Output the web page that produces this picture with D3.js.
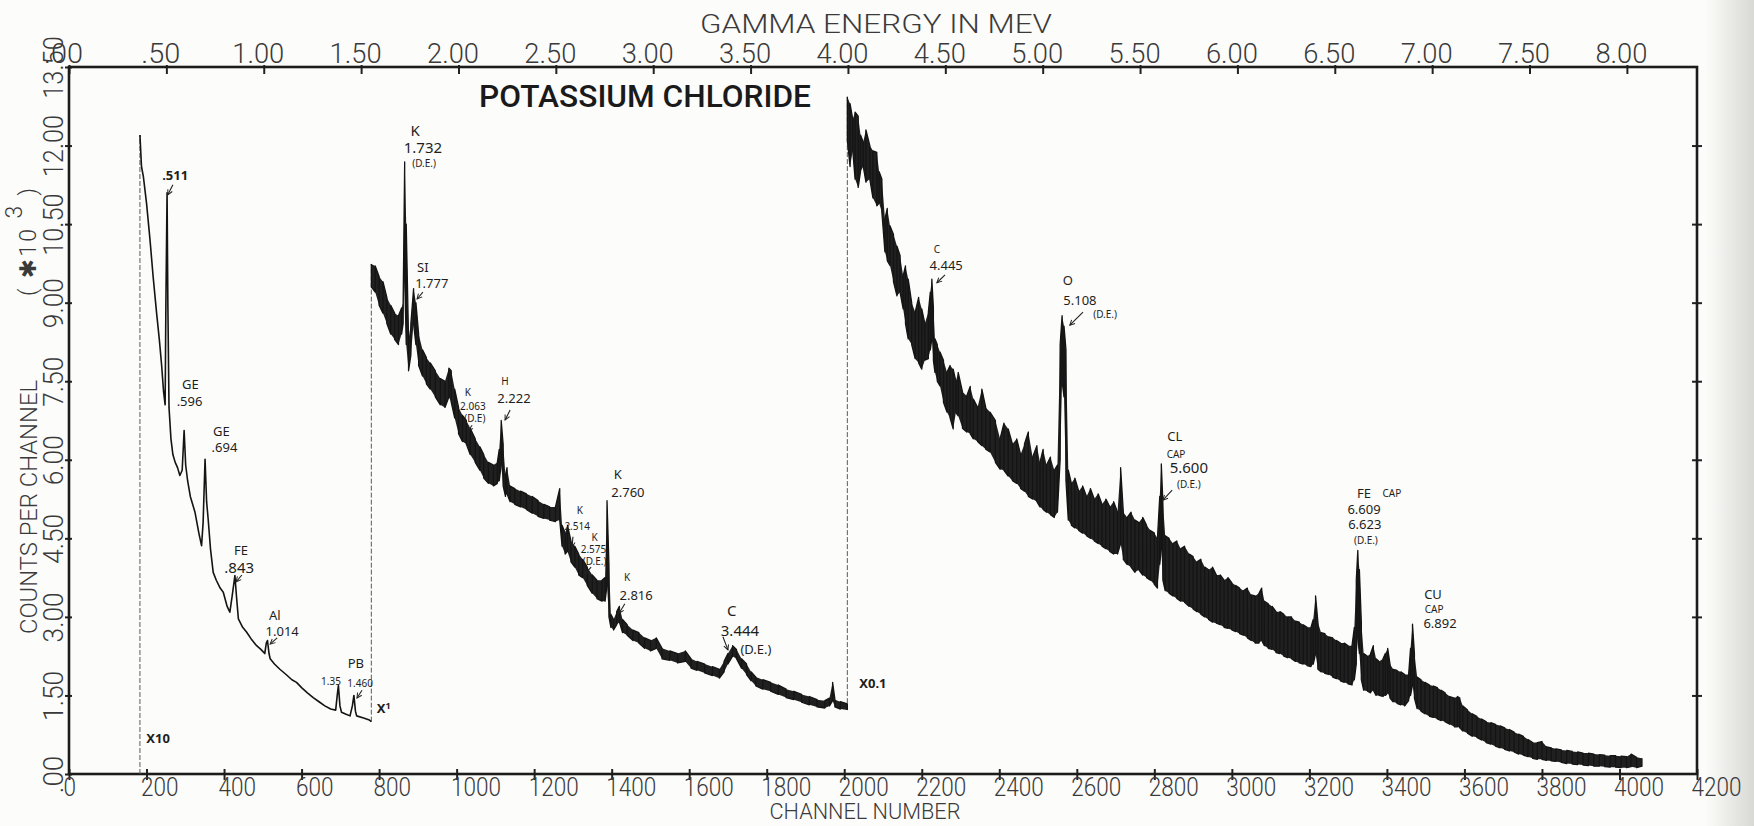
<!DOCTYPE html>
<html>
<head>
<meta charset="utf-8">
<script src="https://cdn.jsdelivr.net/npm/d3@7"></script>
<style>
  body { margin: 0; background: #fcfcfa; }
  svg { display: block; }
  .plot { font-family: Roboto, "Open Sans", "DejaVu Sans", sans-serif; font-weight: 300; fill: #3a3a3a; }
  .note { font-family: "Noto Sans", "DejaVu Sans", sans-serif; fill: #1e1e1e; }
</style>
</head>
<body>
<svg id="chart" width="1754" height="826"></svg>
<script>
// axis ticks
var channelTicks = d3.range(0, 4201, 200);
var energyTicks = d3.range(0, 8.01, 0.5);
var countTicks = d3.range(0, 13.51, 1.5);

// X10 part: [channel, counts (x10^3, as plotted)]
var seg1 = [[183,12.2],[187,11.6],[192,11.4],[200,10.9],[209,10.2],[217,9.5],[226,8.8],[233,8.3],[239,7.8],[244,7.3],
  [248,7.05],[250,9.0],[253,11.1],[255,9.0],[258,7.0],[263,6.4],[268,6.1],[274,5.95],[280,5.85],[286,5.7],
  [292,5.8],[297,6.56],[301,5.9],[306,5.6],[313,5.3],[325,5.0],[335,4.6],[342,4.36],[346,4.8],[351,6.01],
  [355,5.2],[359,4.87],[365,4.3],[372,3.85],[380,3.7],[390,3.55],[398,3.47],[408,3.2],[415,3.09],[421,3.4],
  [428,3.79],[432,3.4],[437,2.96],[448,2.8],[458,2.71],[470,2.58],[484,2.45],[495,2.38],[505,2.3],[509,2.5],
  [512,2.55],[516,2.3],[519,2.2],[530,2.1],[544,2.0],[560,1.9],[575,1.8],[587,1.75],[600,1.65],[615,1.55],
  [630,1.46],[645,1.38],[660,1.3],[675,1.24],[688,1.22],[692,1.5],[695,1.69],[699,1.3],[703,1.18],[715,1.14],
  [725,1.11],[731,1.3],[735,1.5],[739,1.2],[742,1.11],[760,1.07],[775,1.03],[780,1.0]];

// X1 part: [channel, top of noise band, bottom of noise band]
var seg2 = [[780,9.74,9.3],[790,9.7,9.2],[800,9.5,8.95],[810,9.4,8.8],[820,9.1,8.6],[830,8.95,8.4],[840,8.8,8.3],
  [850,8.75,8.2],[858,8.9,8.4],[862,9.0,8.6],[866,11.69,9.5],[870,10.5,8.2],[876,8.3,7.7],[882,8.6,8.0],
  [889,9.27,8.6],[895,9.0,8.2],[902,8.4,7.8],[912,8.1,7.6],[922,7.95,7.45],[932,7.85,7.35],[945,7.7,7.2],
  [958,7.55,7.05],[970,7.5,7.0],[980,7.75,7.2],[986,7.7,7.1],[995,7.35,6.8],[1005,7.0,6.5],[1015,6.85,6.35],
  [1025,6.75,6.3],[1035,6.6,6.1],[1048,6.4,5.95],[1060,6.25,5.8],[1070,6.1,5.65],[1082,5.95,5.55],[1095,5.9,5.5],
  [1105,5.95,5.55],[1110,6.2,5.6],[1115,6.75,5.9],[1120,6.3,5.5],[1126,5.7,5.3],[1130,5.85,5.35],[1138,5.5,5.2],
  [1150,5.45,5.15],[1165,5.4,5.1],[1180,5.35,5.05],[1195,5.3,4.98],[1210,5.22,4.92],[1225,5.15,4.88],
  [1240,5.1,4.85],[1255,5.1,4.82],[1266,5.45,4.85],[1272,4.75,4.35],[1280,4.6,4.2],[1286,4.75,4.25],
  [1295,4.45,4.05],[1305,4.35,3.95],[1315,4.2,3.8],[1325,4.1,3.75],[1337,3.95,3.6],[1350,3.8,3.45],
  [1362,3.7,3.35],[1375,3.7,3.3],[1383,3.75,3.3],[1388,5.22,3.6],[1393,4.0,3.0],[1398,3.05,2.8],[1405,2.95,2.75],
  [1413,3.1,2.85],[1420,3.2,2.9],[1428,2.95,2.7],[1440,2.85,2.65],[1455,2.75,2.55],[1470,2.7,2.5],[1485,2.6,2.4],
  [1500,2.55,2.35],[1515,2.6,2.4],[1530,2.4,2.2],[1550,2.35,2.17],[1570,2.3,2.12],[1590,2.35,2.15],[1605,2.2,2.02],
  [1620,2.15,1.98],[1640,2.1,1.93],[1660,2.05,1.88],[1678,2.0,1.83],[1690,2.15,1.95],[1700,2.3,2.1],
  [1712,2.45,2.25],[1722,2.38,2.2],[1735,2.2,2.02],[1748,2.1,1.9],[1760,1.95,1.78],[1772,1.85,1.68],
  [1790,1.8,1.62],[1810,1.75,1.58],[1830,1.7,1.52],[1850,1.62,1.46],[1870,1.58,1.42],[1890,1.52,1.37],
  [1910,1.48,1.32],[1930,1.42,1.28],[1950,1.4,1.26],[1962,1.45,1.3],[1970,1.75,1.4],[1976,1.42,1.28],
  [1990,1.38,1.24],[2008,1.34,1.22]];

// X0.1 part: [channel, top of noise band, bottom of noise band]
var seg3 = [[2008,12.93,12.1],[2015,12.8,11.6],[2022,12.5,11.9],[2028,12.64,11.36],[2036,12.56,11.2],[2042,12.2,11.5],
  [2049,12.07,11.6],[2056,12.3,11.3],[2066,12.0,11.36],[2074,11.9,11.0],[2084,11.87,10.85],[2090,11.5,10.9],
  [2097,11.36,10.73],[2105,10.6,9.97],[2111,10.8,9.8],[2118,10.47,9.71],[2127,10.3,9.4],[2136,10.08,9.13],
  [2144,9.9,9.2],[2152,9.51,8.88],[2158,9.7,8.6],[2165,9.45,8.31],[2174,9.0,8.2],[2183,8.82,7.93],[2192,9.1,7.85],
  [2200,8.88,7.73],[2208,8.6,7.9],[2217,8.82,7.93],[2222,9.2,8.1],[2226,9.45,8.31],[2230,8.9,7.9],[2234,8.31,7.67],
  [2240,8.2,7.5],[2247,8.06,7.41],[2256,7.9,7.1],[2265,7.67,6.91],[2273,7.8,6.8],[2281,7.73,6.59],[2288,7.5,6.9],
  [2294,7.67,6.84],[2305,7.3,6.6],[2316,7.22,6.53],[2325,7.4,6.5],[2333,7.16,6.4],[2344,7.0,6.35],[2355,7.35,6.27],
  [2365,7.0,6.2],[2376,6.91,6.15],[2390,6.75,5.95],[2402,6.4,5.82],[2412,6.7,5.8],[2423,6.59,5.69],[2434,6.3,5.6],
  [2445,6.4,5.55],[2455,6.1,5.45],[2465,6.3,5.4],[2475,6.53,5.3],[2486,6.05,5.25],[2497,6.27,5.2],[2505,5.95,5.1],
  [2513,6.2,5.05],[2522,5.9,5.0],[2532,6.05,4.95],[2542,5.8,4.9],[2550,5.9,5.0],[2557,8.2,6.0],[2562,8.75,7.5],
  [2567,8.55,7.2],[2572,8.1,5.6],[2578,5.8,4.85],[2586,5.55,4.75],[2595,5.65,4.7],[2605,5.4,4.65],[2615,5.5,4.6],
  [2625,5.3,4.55],[2635,5.45,4.5],[2645,5.25,4.45],[2655,5.35,4.4],[2665,5.15,4.35],[2675,5.25,4.3],[2685,5.1,4.25],
  [2695,5.2,4.2],[2705,5.0,4.2],[2713,5.85,4.4],[2720,5.0,4.1],[2730,4.9,4.0],[2740,5.0,3.95],[2750,4.85,3.85],
  [2760,4.8,3.9],[2770,4.9,3.8],[2780,4.75,3.75],[2790,4.65,3.7],[2800,4.6,3.62],[2808,4.5,3.55],[2814,5.3,4.0],
  [2818,5.92,4.3],[2822,5.2,3.7],[2828,4.55,3.5],[2838,4.5,3.45],[2848,4.4,3.4],[2858,4.45,3.35],[2868,4.3,3.3],
  [2878,4.35,3.28],[2890,4.2,3.2],[2900,4.15,3.15],[2910,4.05,3.1],[2920,4.1,3.05],[2930,3.95,3.0],[2940,3.9,2.95],
  [2950,3.95,2.9],[2960,3.8,2.88],[2970,3.8,2.85],[2980,3.7,2.8],[2990,3.75,2.78],[3000,3.65,2.75],[3010,3.6,2.72],
  [3020,3.55,2.68],[3030,3.5,2.65],[3040,3.55,2.6],[3050,3.42,2.55],[3060,3.4,2.5],[3070,3.45,2.5],[3077,3.55,2.55],
  [3084,3.3,2.45],[3094,3.25,2.4],[3104,3.2,2.38],[3114,3.1,2.32],[3124,3.1,2.3],[3134,3.05,2.25],[3144,3.0,2.22],
  [3154,3.0,2.2],[3164,2.92,2.15],[3174,2.9,2.12],[3184,2.85,2.1],[3194,2.8,2.07],[3204,2.8,2.05],[3210,2.95,2.1],
  [3216,3.4,2.3],[3222,2.9,2.0],[3230,2.7,1.95],[3240,2.68,1.92],[3250,2.62,1.9],[3260,2.6,1.85],[3270,2.55,1.82],
  [3280,2.5,1.78],[3290,2.5,1.75],[3300,2.45,1.72],[3310,2.45,1.7],[3316,2.8,1.8],[3321,3.7,2.1],[3325,4.27,2.6],
  [3329,3.9,2.3],[3334,2.9,1.8],[3340,2.3,1.6],[3350,2.25,1.58],[3358,2.3,1.55],[3365,2.45,1.6],[3372,2.2,1.5],
  [3380,2.15,1.5],[3390,2.2,1.48],[3396,2.3,1.5],[3402,2.4,1.55],[3408,2.1,1.45],[3416,2.0,1.38],[3426,1.98,1.35],
  [3436,1.95,1.32],[3446,1.9,1.3],[3456,1.9,1.4],[3461,2.4,1.5],[3466,2.86,1.7],[3471,2.3,1.45],[3478,1.85,1.25],
  [3488,1.8,1.2],[3498,1.75,1.15],[3510,1.7,1.1],[3520,1.68,1.08],[3530,1.65,1.05],[3540,1.6,1.02],[3550,1.55,1.0],
  [3562,1.48,0.95],[3574,1.45,0.9],[3582,1.48,0.9],[3588,1.45,0.88],[3596,1.3,0.82],[3608,1.22,0.78],[3620,1.15,0.72],
  [3632,1.1,0.7],[3644,1.05,0.65],[3656,1.0,0.6],[3668,0.98,0.57],[3680,0.95,0.53],[3692,0.92,0.5],[3704,0.88,0.47],
  [3716,0.85,0.44],[3728,0.8,0.42],[3740,0.76,0.38],[3752,0.72,0.36],[3764,0.66,0.33],[3776,0.6,0.3],[3788,0.6,0.28],
  [3800,0.62,0.28],[3812,0.52,0.26],[3824,0.5,0.25],[3836,0.48,0.24],[3850,0.46,0.22],[3864,0.45,0.2],[3878,0.43,0.19],
  [3892,0.42,0.18],[3906,0.4,0.17],[3920,0.4,0.16],[3934,0.38,0.15],[3948,0.37,0.15],[3962,0.36,0.14],[3976,0.35,0.13],
  [3990,0.35,0.13],[4004,0.34,0.12],[4018,0.33,0.12],[4030,0.38,0.14],[4044,0.32,0.12],[4058,0.3,0.15]];

// hand-written peak notes: text, channel, counts of the baseline, kind
var peakNotes = [
  {t:".511", ch:274, v:11.34, k:"x"}, {t:"GE", ch:313, v:7.35, k:"m"}, {t:".596", ch:311, v:7.03, k:"m"},
  {t:"GE", ch:393, v:6.46, k:"m"}, {t:".694", ch:401, v:6.15, k:"m"}, {t:"FE", ch:444, v:4.18, k:"m"},
  {t:".843", ch:439, v:3.84, k:"b"}, {t:"Al", ch:531, v:2.94, k:"m"}, {t:"1.014", ch:550, v:2.64, k:"m"},
  {t:"1.35", ch:676, v:1.70, k:"s"}, {t:"PB", ch:740, v:2.03, k:"m"}, {t:"1.460", ch:751, v:1.66, k:"s"},
  {t:"X10", ch:230, v:0.59, k:"x"}, {t:"K", ch:893, v:12.18, k:"b"}, {t:"1.732", ch:913, v:11.86, k:"b"},
  {t:"(D.E.)", ch:916, v:11.6, k:"s"}, {t:"SI", ch:913, v:9.58, k:"m"}, {t:"1.777", ch:936, v:9.28, k:"m"},
  {t:"K", ch:1029, v:7.22, k:"s"}, {t:"2.063", ch:1042, v:6.96, k:"s"}, {t:"(D.E)", ch:1047, v:6.72, k:"s"},
  {t:"H", ch:1125, v:7.42, k:"s"}, {t:"2.222", ch:1148, v:7.08, k:"m"}, {t:"K", ch:1318, v:4.97, k:"s"},
  {t:"2.514", ch:1311, v:4.66, k:"s"}, {t:"K", ch:1356, v:4.45, k:"s"}, {t:"2.575", ch:1353, v:4.22, k:"s"},
  {t:"(D.E.)", ch:1356, v:4.0, k:"s"}, {t:"K", ch:1416, v:5.63, k:"m"}, {t:"2.760", ch:1442, v:5.29, k:"m"},
  {t:"K", ch:1440, v:3.69, k:"s"}, {t:"2.816", ch:1463, v:3.32, k:"m"}, {t:"C", ch:1710, v:3.02, k:"b"},
  {t:"3.444", ch:1731, v:2.64, k:"b"}, {t:"(D.E.)", ch:1772, v:2.3, k:"m"}, {t:"X0.1", ch:2074, v:1.64, k:"x"},
  {t:"C", ch:2239, v:9.95, k:"s"}, {t:"4.445", ch:2263, v:9.62, k:"m"}, {t:"O", ch:2577, v:9.33, k:"m"},
  {t:"5.108", ch:2608, v:8.96, k:"m"}, {t:"(D.E.)", ch:2673, v:8.71, k:"s"}, {t:"CL", ch:2853, v:6.36, k:"m"},
  {t:"CAP", ch:2856, v:6.04, k:"s"}, {t:"5.600", ch:2889, v:5.75, k:"b"}, {t:"(D.E.)", ch:2889, v:5.46, k:"s"},
  {t:"FE", ch:3341, v:5.27, k:"m"}, {t:"CAP", ch:3413, v:5.29, k:"s"}, {t:"6.609", ch:3341, v:4.96, k:"m"},
  {t:"6.623", ch:3343, v:4.68, k:"m"}, {t:"(D.E.)", ch:3346, v:4.40, k:"s"}, {t:"CU", ch:3519, v:3.34, k:"m"},
  {t:"CAP", ch:3522, v:3.07, k:"s"}, {t:"6.892", ch:3537, v:2.79, k:"m"}];

// little arrows: [from ch, from counts, to ch, to counts]
var peakArrows = [[268,11.25,255,11.06],[446,3.80,431,3.67],[537,2.60,519,2.48],[756,1.60,743,1.45],
  [913,9.20,898,9.07],[1040,6.66,1029,6.55],[1138,6.95,1125,6.76],[1300,4.53,1298,4.33],[1347,3.95,1331,3.82],
  [1434,3.25,1419,3.07],[1687,2.62,1700,2.37],[2260,9.53,2239,9.38],[2616,8.82,2582,8.57],[2846,5.42,2822,5.23]];

var W = 1754, H = 826;
var L = 69, R = 1697, T = 67, B = 774;

var svg = d3.select("#chart");

var x = d3.scaleLinear().domain([0, 4200]).range([L, R]);
var y = d3.scaleLinear().domain([0, 13.5]).range([B, T]);
var e = d3.scaleLinear().domain([0, 8.36]).range([L, R]);

var fmt2 = function(d) { return d3.format(".2f")(d).replace(/^0\./, "."); };

// squeeze the plotter lettering to a fixed pitch
function pitch(sel, cw) {
  sel.attr("textLength", function() { return this.textContent.length * cw; })
     .attr("lengthAdjust", "spacingAndGlyphs");
}

// faint grey scan edge on the right
var grad = svg.append("defs").append("linearGradient").attr("id", "edge");
grad.append("stop").attr("offset", "0").attr("stop-color", "#fcfcfa");
grad.append("stop").attr("offset", "1").attr("stop-color", "#d8d8d4");
svg.append("rect").attr("x", 1705).attr("y", 0).attr("width", 49).attr("height", H).attr("fill", "url(#edge)");

svg.select("defs").append("marker")
    .attr("id", "ah").attr("viewBox", "0 0 8 8").attr("refX", 7).attr("refY", 4)
    .attr("markerWidth", 6).attr("markerHeight", 6).attr("orient", "auto")
  .append("path").attr("d", "M1,1 L7,4 L1,7").attr("fill", "none")
    .attr("stroke", "#222").attr("stroke-width", 1.2);

// bottom axis: channel number
var gx = svg.append("g").attr("transform", "translate(0," + B + ")")
    .call(d3.axisBottom(x).tickValues(channelTicks).tickSize(6).tickSizeOuter(0).tickFormat(d3.format("d")));
gx.select(".domain").remove();
gx.attr("font-family", null).attr("font-size", null);
gx.selectAll(".tick line").attr("y1", -5).attr("stroke", "#222").attr("stroke-width", 2);
gx.selectAll(".tick text").attr("class", "plot").attr("font-size", 25).attr("fill", "#3a3a3a")
    .attr("y", 22).attr("dy", null).attr("x", -6).attr("text-anchor", "start")
    .call(pitch, 12.5);

// top axis: gamma energy
var ge = svg.append("g").attr("transform", "translate(0," + T + ")")
    .call(d3.axisTop(e).tickValues(energyTicks).tickSize(-7).tickSizeOuter(0).tickFormat(fmt2));
ge.select(".domain").remove();
ge.attr("font-family", null).attr("font-size", null);
ge.selectAll(".tick line").attr("y1", -2).attr("stroke", "#222").attr("stroke-width", 2);
ge.selectAll(".tick text").attr("class", "plot").attr("font-size", 27).attr("fill", "#3a3a3a")
    .attr("y", -4).attr("dy", null).attr("x", -6).attr("text-anchor", "middle")
    .call(pitch, 13);

// left axis: counts per channel
var gy = svg.append("g").attr("transform", "translate(" + L + ",0)")
    .call(d3.axisLeft(y).tickValues(countTicks).tickSize(4).tickSizeOuter(0).tickFormat(fmt2));
gy.select(".domain").remove();
gy.attr("font-family", null).attr("font-size", null);
gy.selectAll(".tick line").attr("x1", 3).attr("stroke", "#222").attr("stroke-width", 2);
gy.selectAll(".tick text").attr("class", "plot").attr("font-size", 27).attr("fill", "#3a3a3a")
    .attr("x", null).attr("dy", null).attr("text-anchor", "middle")
    .attr("transform", "translate(-6,0) rotate(-90)")
    .call(pitch, 12.5);

// right axis: ticks only
var gr = svg.append("g").attr("transform", "translate(" + R + ",0)")
    .call(d3.axisRight(y).tickValues(countTicks.slice(1, -1)).tickSize(5).tickSizeOuter(0).tickFormat(""));
gr.select(".domain").remove();
gr.selectAll(".tick line").attr("x1", -5).attr("stroke", "#222").attr("stroke-width", 2);

// frame
svg.append("rect").attr("x", L).attr("y", T).attr("width", R - L).attr("height", B - T)
    .attr("fill", "none").attr("stroke", "#1c1c1c").attr("stroke-width", 2.6);

// axis titles
svg.append("text").attr("class", "plot").attr("x", 876).attr("y", 33).attr("font-size", 25)
    .attr("text-anchor", "middle").text("GAMMA ENERGY IN MEV")
    .attr("textLength", 352).attr("lengthAdjust", "spacingAndGlyphs");
svg.append("text").attr("class", "plot").attr("x", 865).attr("y", 819).attr("font-size", 22)
    .attr("text-anchor", "middle").text("CHANNEL NUMBER")
    .attr("textLength", 191).attr("lengthAdjust", "spacingAndGlyphs");
svg.append("text").attr("class", "plot").attr("font-size", 23).attr("text-anchor", "middle")
    .attr("transform", "translate(37,507) rotate(-90)").text("COUNTS PER CHANNEL")
    .attr("textLength", 254).attr("lengthAdjust", "spacingAndGlyphs");
var unit = svg.append("text").attr("class", "plot").attr("font-size", 23).attr("text-anchor", "middle")
    .attr("transform", "translate(36,242) rotate(-90)")
    .attr("textLength", 108).attr("lengthAdjust", "spacing");
unit.append("tspan").text("( ");
unit.append("tspan").attr("font-family", "DejaVu Sans").attr("font-weight", "bold").text("\u2731");
unit.append("tspan").text("10  ");
unit.append("tspan").attr("dy", -14).text("3");
unit.append("tspan").attr("dy", 14).text("  )");

svg.append("text").attr("x", 645).attr("y", 107).attr("text-anchor", "middle")
    .attr("font-family", "Roboto, 'DejaVu Sans', sans-serif").attr("font-weight", 500)
    .attr("font-size", 31).attr("fill", "#1a1a1a").text("POTASSIUM CHLORIDE")
    .attr("textLength", 332).attr("lengthAdjust", "spacingAndGlyphs");

// spectrum
var ink = "#141414";
var line = d3.line().x(function(d) { return x(d[0]); }).y(function(d) { return y(d[1]); });
var area = d3.area().x(function(d) { return x(d[0]); })
    .y0(function(d) { return y(d[2]); }).y1(function(d) { return y(d[1]); });

// thin pen moves between the parts
var moves = [
  [[seg1[0][0], 0], seg1[0]],
  [seg1[seg1.length - 1], [seg2[0][0], seg2[0][1]]],
  [[seg2[seg2.length - 1][0], seg2[seg2.length - 1][2]], [seg3[0][0], seg3[0][1]]]];
svg.append("g").selectAll("path").data(moves).join("path")
    .attr("d", line).attr("fill", "none").attr("stroke", "#5a5a5a").attr("stroke-width", 1)
    .attr("stroke-dasharray", "5,2");

svg.append("path").attr("d", line(seg1)).attr("fill", "none").attr("stroke", ink)
    .attr("stroke-width", 1.6).attr("stroke-linejoin", "round");

function band(seg) {
  svg.append("path").attr("d", area(seg)).attr("fill", ink).attr("fill-opacity", 0.95);
  var zig = [];
  seg.forEach(function(d, i) {
    if (i % 2 === 0) { zig.push([d[0], d[1]], [d[0], d[2]]); }
    else { zig.push([d[0], d[2]], [d[0], d[1]]); }
  });
  svg.append("path").attr("d", line(zig)).attr("fill", "none").attr("stroke", ink)
      .attr("stroke-width", 1.3).attr("stroke-linejoin", "round");
}
band(seg2);
band(seg3);

// notes
var noteSize = {b: 15, m: 13, s: 10, x: 13};
svg.append("g").selectAll("text").data(peakNotes).join("text")
    .attr("class", "note")
    .attr("x", function(d) { return x(d.ch); })
    .attr("y", function(d) { return y(d.v); })
    .attr("text-anchor", "middle")
    .attr("font-size", function(d) { return noteSize[d.k]; })
    .attr("font-weight", function(d) { return d.k === "x" ? "bold" : null; })
    .text(function(d) { return d.t; });

var x1 = svg.append("text").attr("class", "note").attr("x", x(812)).attr("y", y(1.16))
    .attr("text-anchor", "middle").attr("font-size", 13).attr("font-weight", "bold");
x1.append("tspan").text("X");
x1.append("tspan").attr("font-size", 9).attr("dy", -4).text("1");

svg.append("g").selectAll("line").data(peakArrows).join("line")
    .attr("x1", function(d) { return x(d[0]); }).attr("y1", function(d) { return y(d[1]); })
    .attr("x2", function(d) { return x(d[2]); }).attr("y2", function(d) { return y(d[3]); })
    .attr("stroke", "#222").attr("stroke-width", 1.1).attr("marker-end", "url(#ah)");
</script>
</body>
</html>
